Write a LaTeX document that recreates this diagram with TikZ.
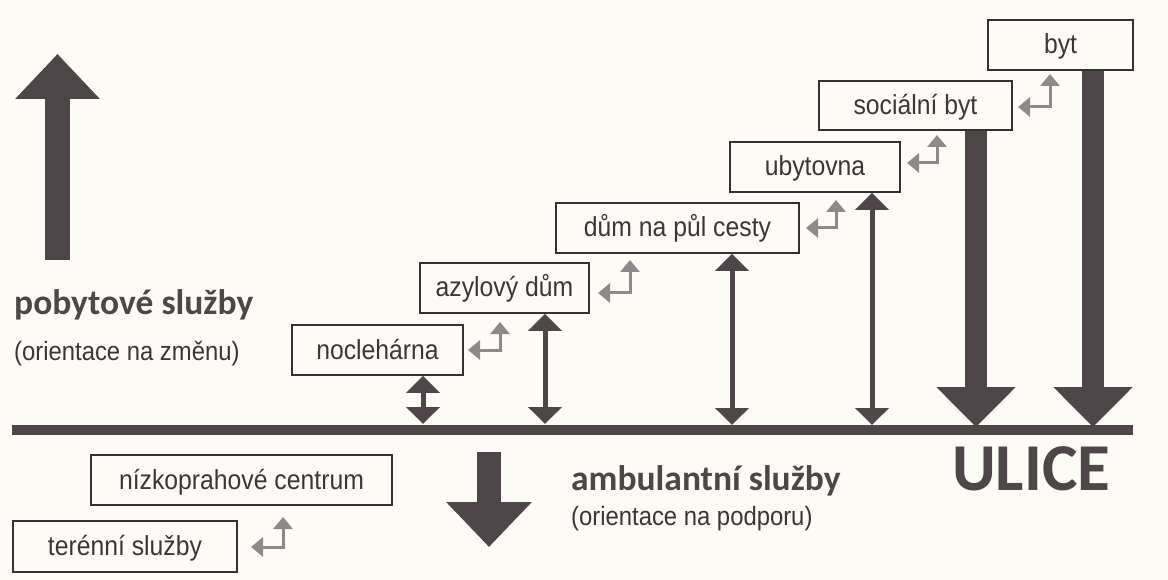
\documentclass[tikz,border=0pt]{standalone}
\usepackage{fontspec}
\setmainfont{Liberation Sans}[FakeStretch=0.9]
\newfontfamily\headfont{Carlito}
\usetikzlibrary{arrows.meta}
\definecolor{bgcol}{HTML}{FCFBF6}
\definecolor{darkcol}{HTML}{4E4648}
\definecolor{boxcol}{HTML}{353233}
\definecolor{txtcol}{HTML}{3A3738}
\definecolor{graycol}{HTML}{8C8A8A}
\tikzset{
  box/.style={draw=boxcol, line width=1.8pt, inner sep=0pt, text=txtcol,
    font=\fontsize{27.5}{30}\selectfont, text height=21pt, text depth=3pt, minimum height=50pt},
  ret/.style={draw=graycol, line width=3pt,
    {Triangle[length=12pt,width=19pt]}-{Triangle[length=12pt,width=19pt]}},
  dbl/.style={draw=darkcol, line width=5pt,
    {Triangle[length=17pt,width=33pt]}-{Triangle[length=17pt,width=33pt]}},
  thick arrow/.style={draw=darkcol, line width=22pt, -{Triangle[length=40pt,width=77pt]}},
  big arrow/.style={draw=darkcol, line width=25pt, -{Triangle[length=45pt,width=82pt]}},
  headtxt/.style={text=darkcol, inner sep=0pt, font=\headfont\bfseries\fontsize{35.5}{40}\selectfont},
  subtxt/.style={text=txtcol, inner sep=0pt, font=\fontsize{26.5}{30}\selectfont},
}
\begin{document}
\begin{tikzpicture}[x=1pt,y=-1pt]
\fill[bgcol] (0,0) rectangle (1168,580);
\useasboundingbox (0,0) rectangle (1168,580);

% street line
\coordinate (L) at (12,429.5);
\coordinate (R) at (1133,429.5);
\draw[darkcol, line width=10pt] (L) -- (R);

% boxes
\node[box, minimum width=171pt] (noc) at (377.5,350) {nocleh\'arna};
\node[box, minimum width=169pt] (azyl) at (504.5,288) {azylov\'y d\r{u}m};
\node[box, minimum width=243pt] (dum) at (677.5,228) {d\r{u}m na p\r{u}l cesty};
\node[box, minimum width=170pt] (ubyt) at (815,167) {ubytovna};
\node[box, minimum width=193pt, minimum height=49pt] (soc) at (915.5,105.5) {soci\'aln\'i byt};
\node[box, minimum width=145pt] (byt) at (1060.5,45) {byt};
\node[box, minimum width=301pt] (nizko) at (241.5,480) {n\'izkoprahov\'e centrum};
\node[box, minimum width=224pt, minimum height=51pt] (teren) at (125,546.5) {ter\'enn\'i slu\v{z}by};

% double arrows to the street
\coordinate (s1) at (423,424);
\coordinate (s2) at (545,424);
\coordinate (s3) at (732,425);
\coordinate (s4) at (872,425);
\coordinate (s5) at (976,427);
\coordinate (s6) at (1093,427);
\draw[dbl] (noc.south -| s1) -- (s1);
\draw[dbl] (azyl.south -| s2) -- (s2);
\draw[dbl] (dum.south -| s3) -- (s3);
\draw[dbl] (ubyt.south -| s4) -- (s4);
\draw[thick arrow] (soc.south -| s5) -- (s5);
\draw[thick arrow] (byt.south -| s6) -- (s6);

% small return arrows
\coordinate (r1a) at (468,350); \coordinate (r1b) at (500,350); \coordinate (r1c) at (500,322);
\coordinate (r2a) at (598,293); \coordinate (r2b) at (630,293); \coordinate (r2c) at (630,260);
\coordinate (r3a) at (806,228); \coordinate (r3b) at (836,228); \coordinate (r3c) at (836,200);
\coordinate (r4a) at (907,163); \coordinate (r4b) at (937,163); \coordinate (r4c) at (937,135);
\coordinate (r5a) at (1018,107); \coordinate (r5b) at (1050,107); \coordinate (r5c) at (1050,74);
\coordinate (r6a) at (251,547); \coordinate (r6b) at (283,547); \coordinate (r6c) at (283,517);
\draw[ret] (r1a) -- (r1b) -- (r1c);
\draw[ret] (r2a) -- (r2b) -- (r2c);
\draw[ret] (r3a) -- (r3b) -- (r3c);
\draw[ret] (r4a) -- (r4b) -- (r4c);
\draw[ret] (r5a) -- (r5b) -- (r5c);
\draw[ret] (r6a) -- (r6b) -- (r6c);

% big arrows
\coordinate (u0) at (57.5,260); \coordinate (u1) at (57.5,54);
\draw[big arrow] (u0) -- (u1);
\coordinate (d0) at (489,452); \coordinate (d1) at (489,547);
\draw[big arrow, line width=24pt, -{Triangle[length=45pt,width=83pt]}] (d0) -- (d1);

% texts
\node[headtxt, anchor=base west] (pob) at (14,314) {pobytov\'e slu\v{z}by};
\node[subtxt, anchor=base west] (pobsub) at (14,360) {(orientace na zm\v{e}nu)};
\node[headtxt, anchor=base west] (amb) at (571,490) {ambulantn\'i slu\v{z}by};
\node[subtxt, anchor=base west] (ambsub) at (571,525) {(orientace na podporu)};
\node[headtxt, anchor=base west, font=\headfont\bfseries\fontsize{67}{70}\selectfont] (ulice) at (952,490) {ULICE};
\end{tikzpicture}
\end{document}
